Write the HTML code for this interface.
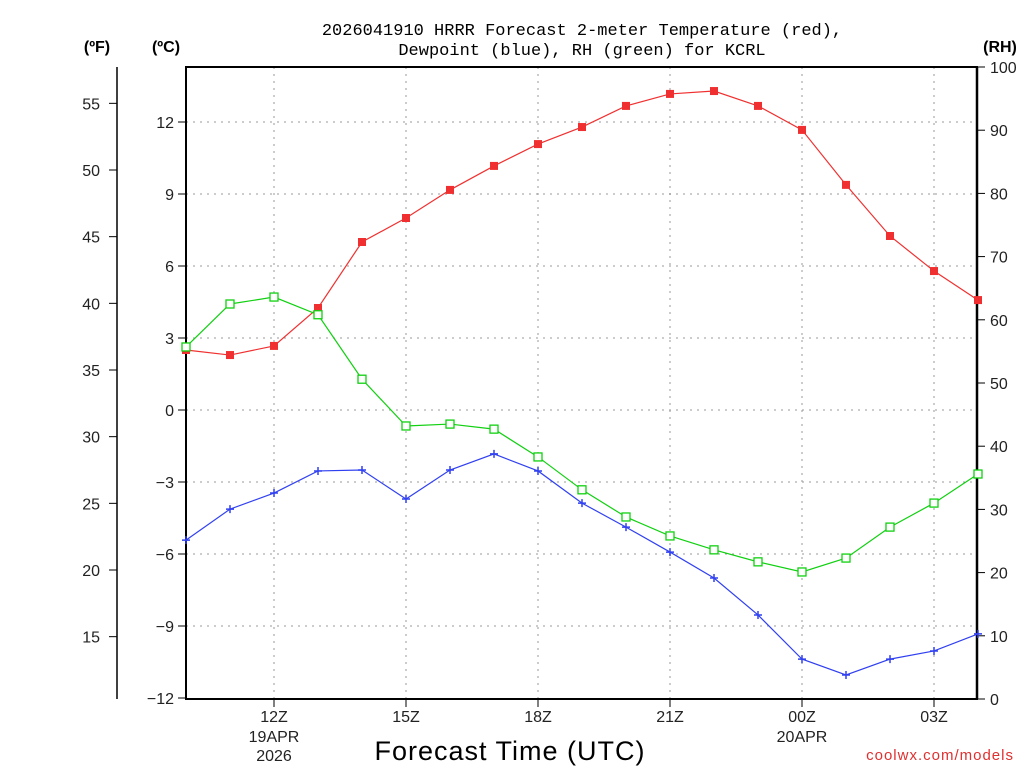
<!DOCTYPE html>
<html><head><meta charset="utf-8"><style>
body{margin:0;background:#fff;}
svg{display:block;font-family:"Liberation Sans","DejaVu Sans",sans-serif;}
</style></head><body>
<svg id="chart" width="1024" height="768">
<g font-family="'Liberation Mono','DejaVu Sans Mono',monospace" font-size="17" text-anchor="middle" fill="#000">
<text x="582" y="35">2026041910 HRRR Forecast 2-meter Temperature (red),</text>
<text x="582" y="55">Dewpoint (blue), RH (green) for KCRL</text>
</g>
<text x="97" y="52" font-size="16" font-weight="bold" text-anchor="middle">(ºF)</text>
<text x="166" y="52" font-size="16" font-weight="bold" text-anchor="middle">(ºC)</text>
<text x="1000" y="52" font-size="16" font-weight="bold" text-anchor="middle">(RH)</text>
<g id="grid"></g>
<g id="axes" fill="#222"></g>
<g id="series"></g>
<text x="510" y="760" font-size="27" text-anchor="middle" letter-spacing="1">Forecast Time (UTC)</text>
<text x="1014" y="760" font-size="15" fill="#e03030" text-anchor="end" letter-spacing="1">coolwx.com/models</text>
</svg>
<script>
const hours=[10,11,12,13,14,15,16,17,18,19,20,21,22,23,24,25,26,27,28];
const tempC=[2.5,2.29,2.67,4.25,7.0,8.0,9.17,10.17,11.08,11.79,12.67,13.17,13.29,12.67,11.67,9.38,7.25,5.79,4.58];
const dewC=[-5.42,-4.13,-3.46,-2.54,-2.5,-3.71,-2.5,-1.83,-2.54,-3.88,-4.88,-5.92,-7.0,-8.54,-10.38,-11.04,-10.38,-10.04,-9.33];
const rh=[55.7,62.5,63.6,60.8,50.6,43.2,43.5,42.7,38.3,33.1,28.8,25.8,23.6,21.7,20.1,22.3,27.2,31.0,35.6];
const cTicks=[-12,-9,-6,-3,0,3,6,9,12];
const fTicks=[15,20,25,30,35,40,45,50,55];
const rhTicks=[0,10,20,30,40,50,60,70,80,90,100];
const xTicks=[12,15,18,21,24,27];
const xLabels=["12Z","15Z","18Z","21Z","00Z","03Z"];
const NS="http://www.w3.org/2000/svg";
const L=186,R=977,T=67,B=699;
const xs=h=>L+(h-10)*44;
const yc=c=>410-c*24;
const yf=f=>yc((f-32)/1.8);
const yr=r=>B-r*(B-T)/100;
function mk(p,tag,a,txt){const e=document.createElementNS(NS,tag);for(const k in a)e.setAttribute(k,a[k]);if(txt!==undefined)e.textContent=txt;p.appendChild(e);return e;}
const grid=document.getElementById('grid'),axes=document.getElementById('axes'),ser=document.getElementById('series');
cTicks.forEach(c=>{
 if(c>-12){const g=mk(grid,'line',{x1:L,x2:R,y1:yc(c),y2:yc(c),stroke:'#999','stroke-dasharray':'2,5'});
 
 }
 mk(axes,'line',{x1:L-8,x2:L,y1:yc(c),y2:yc(c),stroke:'#000'});
 const t=mk(axes,'text',{x:L-12,y:yc(c)+6,'font-size':16,'text-anchor':'end'},c<0?'\u2212'+(-c):String(c));
 
 
});
fTicks.forEach(f=>{
 mk(axes,'line',{x1:109,x2:117,y1:yf(f),y2:yf(f),stroke:'#000'});
 const t=mk(axes,'text',{x:100,y:yf(f)+6,'font-size':16,'text-anchor':'end'},String(f));
 
 
});
rhTicks.forEach(r=>{
 mk(axes,'line',{x1:R,x2:R+8,y1:yr(r),y2:yr(r),stroke:'#000'});
 const t=mk(axes,'text',{x:990,y:yr(r)+6,'font-size':16},String(r));
 
 
});
xTicks.forEach((h,i)=>{
 const g=mk(grid,'line',{x1:xs(h),x2:xs(h),y1:T,y2:B,stroke:'#999','stroke-dasharray':'2,5'});
 
 
 mk(axes,'line',{x1:xs(h),x2:xs(h),y1:B,y2:B+8,stroke:'#000'});
 const t=mk(axes,'text',{x:xs(h),y:722,'font-size':16,'text-anchor':'middle'},xLabels[i]);
 
 
});
mk(axes,'text',{x:xs(12),y:742,'font-size':16,'text-anchor':'middle'},'19APR');
mk(axes,'text',{x:xs(12),y:761,'font-size':16,'text-anchor':'middle'},'2026');
mk(axes,'text',{x:xs(24),y:742,'font-size':16,'text-anchor':'middle'},'20APR');
mk(axes,'rect',{x:L,y:T,width:R-L,height:B-T,fill:'none',stroke:'#000','stroke-width':2});
mk(axes,'line',{x1:R,x2:R,y1:T,y2:B,stroke:'#000','stroke-width':2.5});
mk(axes,'line',{x1:117,x2:117,y1:T,y2:B,stroke:'#000','stroke-width':1.5});
function line(vals,yf2,color,name){
 const pts=vals.map((v,i)=>xs(hours[i])+','+yf2(v)).join(' ');
 const p=mk(ser,'polyline',{points:pts,fill:'none',stroke:color,'stroke-width':1.2});
 
 
}
line(tempC,yc,'#f03030','temperature-line');
line(dewC,yc,'#3040f0','dewpoint-line');
line(rh,yr,'#10d010','rh-line');
tempC.forEach((v,i)=>{const m=mk(ser,'rect',{x:xs(hours[i])-4,y:yc(v)-4,width:8,height:8,fill:'#f03030'});
 
 });
dewC.forEach((v,i)=>{const x=xs(hours[i]),y=yc(v);const m=mk(ser,'path',{d:`M${x-4} ${y}H${x+4}M${x} ${y-4}V${y+4}`,stroke:'#3040f0','stroke-width':1.5});
 
 });
rh.forEach((v,i)=>{const m=mk(ser,'rect',{x:xs(hours[i])-4,y:yr(v)-4,width:8,height:8,fill:'#fff',stroke:'#10d010','stroke-width':1.3});
 
 });
</script>
</body></html>
